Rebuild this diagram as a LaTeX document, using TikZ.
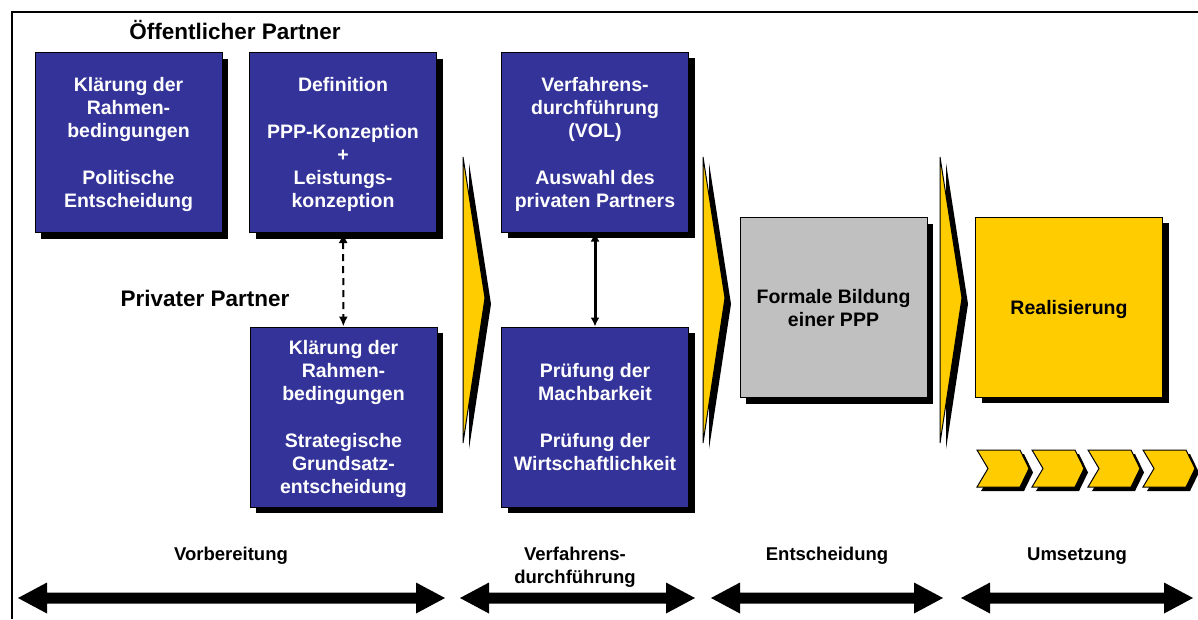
\documentclass[tikz,border=0pt]{standalone}
\usepackage{fontspec}
\setmainfont{Liberation Sans}
\usetikzlibrary{arrows.meta, shadows}

\definecolor{pppblue}{HTML}{333399}
\definecolor{pppgray}{HTML}{C0C0C0}
\definecolor{pppyellow}{HTML}{FFCC00}

\begin{document}
\begin{tikzpicture}[
    x=1pt, y=-1pt,
    every node/.style={font=\bfseries},
    boxshadow/.style={drop shadow={shadow xshift=6pt, shadow yshift=-6pt, fill=black, opacity=1}},
    phasebox/.style={rectangle, draw=black, line width=1pt, minimum width=187pt, minimum height=180pt,
        inner sep=0pt, text depth=0pt, align=center, boxshadow, font=\fontsize{19.5}{23}\selectfont\bfseries},
    bluebox/.style={phasebox, fill=pppblue, text=white},
    graybox/.style={phasebox, fill=pppgray, text=black},
    yellowbox/.style={phasebox, fill=pppyellow, text=black},
    partner/.style={font=\fontsize{22.5}{26}\selectfont\bfseries},
    phase/.style={font=\fontsize{18.5}{23}\selectfont\bfseries, align=center, anchor=north},
    bigchevron/.style={fill=pppyellow, draw=black, line width=1pt,
        drop shadow={shadow xshift=6pt, shadow yshift=-6pt, fill=black, opacity=1}},
    smallchevron/.style={fill=pppyellow, draw=black, line width=1pt,
        drop shadow={shadow xshift=4pt, shadow yshift=-4pt, fill=black, opacity=1}},
    dasharrow/.style={{Latex[length=10pt, width=9pt]}-{Latex[length=10pt, width=9pt]}, line width=2pt, dash pattern=on 7pt off 5pt},
    linkarrow/.style={{Latex[length=9pt, width=9pt]}-{Latex[length=9pt, width=9pt]}, line width=3pt}
]
\useasboundingbox (0,0) rectangle (1198,619);

% frame
\draw[line width=2.5pt] (12,619) -- (12,12) -- (1198,12);

% ============ VORBEREITUNG ============
\node[partner] (oeff) at (235,30) {Öffentlicher Partner};
\node[partner] (priv) at (205,298) {Privater Partner};

\node[bluebox] (rahmenoeff) at (128.5,142.5) {Klärung der\\Rahmen-\\bedingungen\\[24pt]Politische\\Entscheidung};
\node[bluebox] (definition) at (343,142.5) {Definition\\[24pt]PPP-Konzeption\\+\\Leistungs-\\konzeption};
\node[bluebox] (rahmenpriv) at (343.5,417) {Klärung der\\Rahmen-\\bedingungen\\[24pt]Strategische\\Grundsatz-\\entscheidung};

\draw[dasharrow] (definition) -- (rahmenpriv);

% ============ VERFAHRENSDURCHFUEHRUNG ============
\node[bluebox] (verfahren) at (595,142) {Verfahrens-\\durchführung\\(VOL)\\[24pt]Auswahl des\\privaten Partners};
\node[bluebox] (pruefung) at (595,417) {Prüfung der\\Machbarkeit\\[24pt]Prüfung der\\Wirtschaftlichkeit};

\draw[linkarrow] (verfahren) -- (pruefung);

% ============ ENTSCHEIDUNG / UMSETZUNG ============
\node[graybox] (bildung) at (833.5,307.5) {Formale Bildung\\einer PPP};
\node[yellowbox] (realisierung) at (1069,307) {Realisierung};

% Chevrons between phases
\foreach \x in {463,703,940}
    \filldraw[bigchevron] (\x,157) -- (\x+22,298) -- (\x,443) -- cycle;

% Small chevrons below Realisierung
\foreach \x in {977,1032,1088,1143}
    \filldraw[smallchevron] (\x,450) -- (\x+43,450) -- (\x+52,468.5) -- (\x+43,487)
        -- (\x,487) -- (\x+11,468.5) -- cycle;

% ============ PHASE ARROWS ============
\foreach \a/\b in {18/445, 460/695, 711/943, 961/1193}
    \fill (\a,598) -- (\a+29,582.5) -- (\a+29,592.5) -- (\b-29,592.5) -- (\b-29,582.5)
        -- (\b,598) -- (\b-29,613.5) -- (\b-29,603.5) -- (\a+29,603.5) -- (\a+29,613.5) -- cycle;

\node[phase] (vorb) at (231,544) {Vorbereitung};
\node[phase] (verf) at (575,544) {Verfahrens-\\durchführung};
\node[phase] (ents) at (827,544) {Entscheidung};
\node[phase] (umse) at (1077,544) {Umsetzung};

\end{tikzpicture}
\end{document}
